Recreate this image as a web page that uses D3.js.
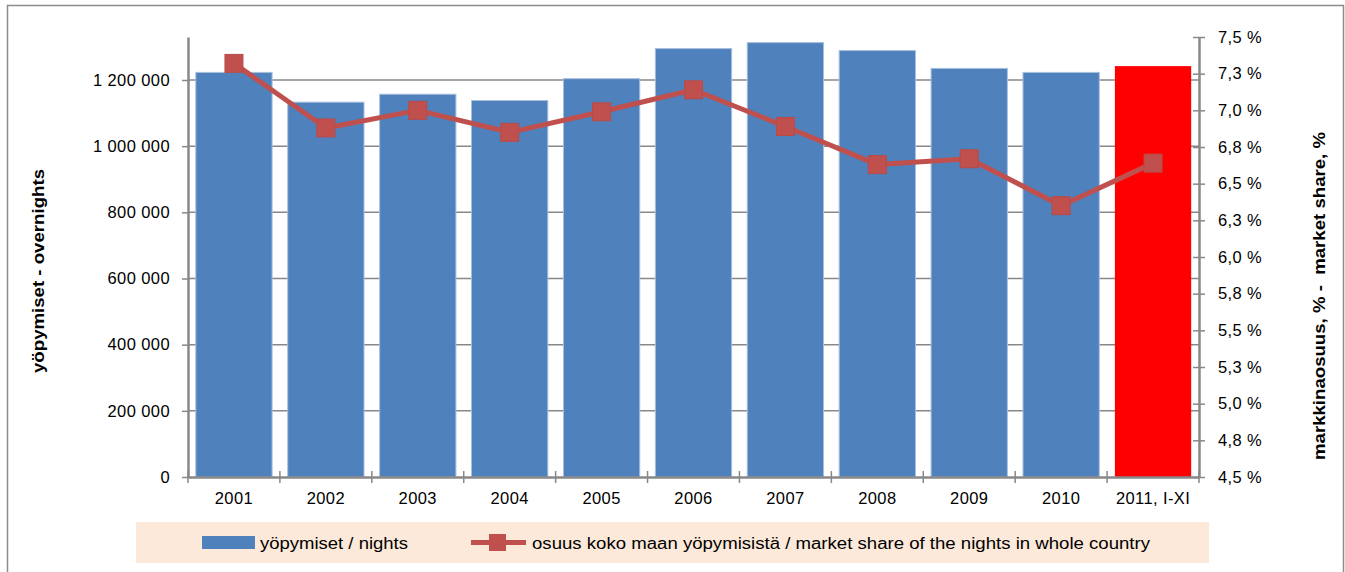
<!DOCTYPE html>
<html>
<head>
<meta charset="utf-8">
<script src="https://cdn.jsdelivr.net/npm/d3@7"></script>
<style>
    body { margin: 0; background: #fff; }
    svg { display: block; font-family: 'Liberation Sans', Arial, sans-serif; }
</style>
</head>
<body>
<div class="chart"></div>
<script>
const years = ['2001', '2002', '2003', '2004', '2005', '2006', '2007', '2008', '2009', '2010', '2011, I-XI'];
const nights = [1223000, 1133000, 1157000, 1138000, 1204000, 1295000, 1313000, 1289000, 1235000, 1223000, 1242000];
const share = [7.32, 6.88, 7.0, 6.85, 6.99, 7.14, 6.89, 6.63, 6.67, 6.35, 6.64];
const leftTicks = [0, 200000, 400000, 600000, 800000, 1000000, 1200000];
const rightTicks = [4.5, 4.75, 5, 5.25, 5.5, 5.75, 6, 6.25, 6.5, 6.75, 7, 7.25, 7.5];

const width = 1345;
const height = 572;
const margin = { top: 37, right: 146, bottom: 95, left: 188 };
const plotW = width - margin.left - margin.right;
const plotH = height - margin.top - margin.bottom;

const fi = d3.formatLocale({ decimal: ',', thousands: ' ', grouping: [3], currency: ['', ''] });
const fmtNum = fi.format(',');
const fmtPct = d => fi.format('.1f')(d) + ' %';

const svg = d3.select('.chart')
    .append('svg')
    .attr('width', width)
    .attr('height', height);

// outer frame
svg.append('rect')
    .attr('x', 7.5)
    .attr('y', 5.5)
    .attr('width', 1336)
    .attr('height', 580)
    .attr('fill', 'none')
    .attr('stroke', '#8c8c8c')
    .attr('stroke-width', 1.5);

const g = svg.append('g')
    .attr('transform', `translate(${margin.left},${margin.top})`);

const x = d3.scaleBand()
    .domain(years)
    .range([0, plotW])
    .paddingInner(0.17)
    .paddingOuter(0.085);

const y = d3.scaleLinear()
    .domain([0, 1330000])
    .range([plotH, 0]);

const y2 = d3.scaleLinear()
    .domain([4.5, 7.5])
    .range([plotH, 0]);

// gridlines
g.append('g')
    .selectAll('line')
    .data(leftTicks.slice(1))
    .enter()
    .append('line')
    .attr('x1', 0)
    .attr('x2', plotW)
    .attr('y1', d => y(d))
    .attr('y2', d => y(d))
    .attr('stroke', '#888')
    .attr('stroke-width', 1.5);

// bars
g.append('g')
    .selectAll('rect')
    .data(nights)
    .enter()
    .append('rect')
    .attr('x', (d, i) => x(years[i]))
    .attr('y', d => y(d))
    .attr('width', x.bandwidth())
    .attr('height', d => plotH - y(d))
    .attr('fill', (d, i) => i === years.length - 1 ? '#ff0000' : '#4f81bd')
    .attr('stroke', (d, i) => i === years.length - 1 ? 'none' : '#a7bfde')
    .attr('stroke-width', 1);

// line
const line = d3.line()
    .x((d, i) => x(years[i]) + x.bandwidth() / 2)
    .y(d => y2(d));

g.append('path')
    .datum(share)
    .attr('d', line)
    .attr('fill', 'none')
    .attr('stroke', '#c0504d')
    .attr('stroke-width', 5)
    .attr('stroke-linejoin', 'round');

g.append('g')
    .selectAll('rect')
    .data(share)
    .enter()
    .append('rect')
    .attr('x', (d, i) => x(years[i]) + x.bandwidth() / 2 - 9)
    .attr('y', d => y2(d) - 9)
    .attr('width', 18)
    .attr('height', 18)
    .attr('fill', '#c0504d')
    .attr('stroke', '#b84b48')
    .attr('stroke-width', 1);

// left axis
const leftAxis = g.append('g')
    .call(d3.axisLeft(y).tickValues(leftTicks).tickFormat(fmtNum).tickSize(6).tickSizeOuter(0).tickPadding(12));

// right axis
const rightAxis = g.append('g')
    .attr('transform', `translate(${plotW},0)`)
    .call(d3.axisRight(y2).tickValues(rightTicks).tickFormat(fmtPct).tickSize(6).tickSizeOuter(0).tickPadding(13));
rightAxis.selectAll('.tick line').attr('x1', -6);

// bottom axis
const bottomAxis = g.append('g')
    .attr('transform', `translate(0,${plotH})`)
    .call(d3.axisBottom(x).tickSize(0).tickPadding(15));

const boundaries = d3.range(years.length + 1).map(i => i * x.step() - x.step() * x.paddingInner() / 2 + x.step() * x.paddingOuter());
bottomAxis.selectAll('.bound')
    .data(boundaries)
    .enter()
    .append('line')
    .attr('class', 'bound')
    .attr('x1', d => d)
    .attr('x2', d => d)
    .attr('y1', -6)
    .attr('y2', 6)
    .attr('stroke', '#888')
    .attr('stroke-width', 1.5);

[leftAxis, rightAxis, bottomAxis].forEach(a => {
    a.select('.domain').attr('stroke', '#888').attr('stroke-width', 2.5);
    a.selectAll('.tick line').attr('stroke', '#888').attr('stroke-width', 1.5);
    a.selectAll('text')
        .attr('fill', '#000')
        .style('font-size', '16.5px')
        .style('letter-spacing', '0.4px')
        .style('font-family', 'Liberation Sans, Arial, sans-serif');
});

// axis titles
svg.append('text')
    .attr('transform', 'translate(44,271) rotate(-90)')
    .attr('text-anchor', 'middle')
    .attr('textLength', 204)
    .attr('lengthAdjust', 'spacingAndGlyphs')
    .style('font-size', '16px')
    .style('font-weight', 'bold')
    .text('yöpymiset - overnights');

svg.append('text')
    .attr('transform', 'translate(1325,296) rotate(-90)')
    .attr('text-anchor', 'middle')
    .attr('textLength', 328)
    .attr('lengthAdjust', 'spacingAndGlyphs')
    .style('font-size', '16px')
    .style('font-weight', 'bold')
    .attr('xml:space', 'preserve')
    .text('markkinaosuus, % -  market share, %');

// legend
const legend = svg.append('g');
legend.append('rect')
    .attr('x', 136)
    .attr('y', 522)
    .attr('width', 1073)
    .attr('height', 41)
    .attr('fill', '#fde9d9');

legend.append('rect')
    .attr('x', 202)
    .attr('y', 536)
    .attr('width', 53)
    .attr('height', 13)
    .attr('fill', '#4f81bd');

legend.append('text')
    .attr('x', 260)
    .attr('y', 549)
    .attr('textLength', 148)
    .attr('lengthAdjust', 'spacingAndGlyphs')
    .style('font-size', '16px')
    .text('yöpymiset / nights');

legend.append('line')
    .attr('x1', 471)
    .attr('x2', 526)
    .attr('y1', 542.5)
    .attr('y2', 542.5)
    .attr('stroke', '#c0504d')
    .attr('stroke-width', 5);

legend.append('rect')
    .attr('x', 489)
    .attr('y', 534)
    .attr('width', 17)
    .attr('height', 17)
    .attr('fill', '#c0504d');

legend.append('text')
    .attr('x', 532)
    .attr('y', 549)
    .attr('textLength', 618)
    .attr('lengthAdjust', 'spacingAndGlyphs')
    .style('font-size', '16px')
    .text('osuus koko maan yöpymisistä / market share of the nights in whole country');
</script>
</body>
</html>
